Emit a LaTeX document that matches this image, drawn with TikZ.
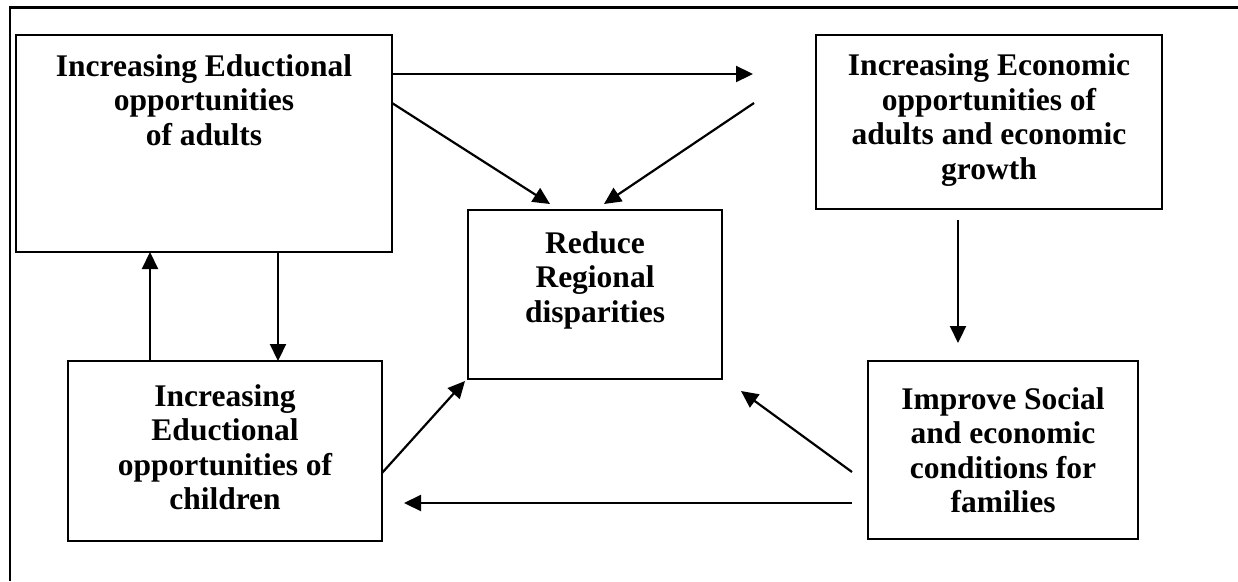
\documentclass[tikz,border=0pt]{standalone}
\usepackage{fontspec}
\setmainfont{Liberation Serif}
\usetikzlibrary{arrows.meta}
\begin{document}
\begin{tikzpicture}[x=1pt,y=-1pt,
  box/.style={draw=black,line width=2pt,inner sep=0pt,outer sep=0pt,anchor=north west},
  txt/.style={align=center,inner sep=0pt,font=\bfseries\fontsize{31.5}{34.5}\selectfont},
  arr/.style={line width=2.2pt,-{Triangle[length=17pt,width=16pt]}}]
\useasboundingbox (0,0) rectangle (1238,581);
% outer frame (left and top only)
\draw[line width=2.5pt] (10,581) -- (10,7.5) -- (1238,7.5);
% boxes
\node[box,minimum width=376,minimum height=217] (A) at (16,35) {};
\node[box,minimum width=346,minimum height=174] (B) at (816,35) {};
\node[box,minimum width=254,minimum height=169] (C) at (468,210) {};
\node[box,minimum width=314,minimum height=180] (D) at (68,361) {};
\node[box,minimum width=270,minimum height=178] (E) at (868,361) {};
% texts
\node[txt] (At) at (204,100) {Increasing Eductional\\opportunities\\of adults};
\node[txt] (Bt) at (989,120) {Increasing Economic\\opportunities of\\adults and economic\\growth};
\node[txt] (Ct) at (595,280) {Reduce\\Regional\\disparities};
\node[txt] (Dt) at (225,447) {Increasing\\Eductional\\opportunities of\\children};
\node[txt] (Et) at (1003,450) {Improve Social\\and economic\\conditions for\\families};
% free ends
\coordinate (p1) at (753,74);
\coordinate (c1) at (550,204);
\coordinate (b1) at (754,103);
\coordinate (c2) at (604,204);
\coordinate (c3) at (465,381);
\coordinate (b2) at (958,220);
\coordinate (e1) at (958,343);
\coordinate (e2) at (852,472);
\coordinate (c4) at (741,391);
\coordinate (e3) at (852,503);
\coordinate (d2) at (404,503);
% connectors
\draw[arr] ([yshift=69.5pt]A.east) -- (p1);
\draw[arr] ([yshift=40.5pt]A.east) -- (c1);
\draw[arr] (b1) -- (c2);
\draw[arr] ([xshift=74pt]A.south) -- ([xshift=53pt]D.north);
\draw[arr] ([xshift=-75pt]D.north) -- ([xshift=-54pt]A.south);
\draw[arr] ([yshift=-22pt]D.east) -- (c3);
\draw[arr] (b2) -- (e1);
\draw[arr] (e2) -- (c4);
\draw[arr] (e3) -- (d2);
\end{tikzpicture}
\end{document}
